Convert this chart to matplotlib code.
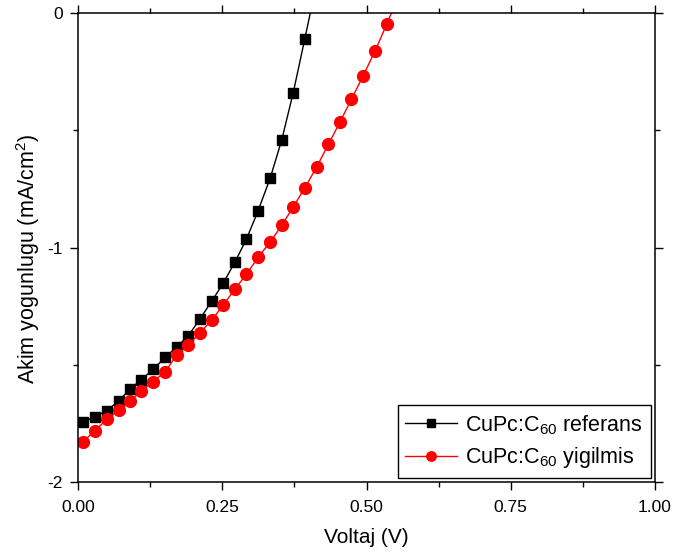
import matplotlib
matplotlib.use('Agg')
import matplotlib.pyplot as plt
from matplotlib.ticker import MultipleLocator, FormatStrFormatter

plt.rcParams['font.family'] = ['Liberation Sans', 'DejaVu Sans']
plt.rcParams['mathtext.fontset'] = 'custom'
plt.rcParams['mathtext.rm'] = 'Liberation Sans'
plt.rcParams['mathtext.it'] = 'Liberation Sans'
plt.rcParams['axes.unicode_minus'] = False

# voltaj (V) ve akim yogunlugu (mA/cm2); son noktalar ust kenarin disinda kalir
v_ref = [0.009, 0.029, 0.050, 0.071, 0.090, 0.110, 0.130, 0.151, 0.171, 0.191,
         0.211, 0.232, 0.252, 0.272, 0.292, 0.312, 0.333, 0.353, 0.373, 0.393, 0.413]
j_ref = [-1.743, -1.722, -1.696, -1.653, -1.604, -1.563, -1.520, -1.469, -1.424, -1.377,
         -1.306, -1.228, -1.151, -1.062, -0.964, -0.844, -0.705, -0.542, -0.340, -0.111, 0.12]

v_yig = [0.009, 0.029, 0.050, 0.071, 0.090, 0.110, 0.130, 0.151, 0.171, 0.191,
         0.211, 0.232, 0.252, 0.272, 0.292, 0.312, 0.333, 0.353, 0.373, 0.393,
         0.414, 0.434, 0.454, 0.474, 0.494, 0.515, 0.535, 0.555]
j_yig = [-1.828, -1.781, -1.733, -1.693, -1.655, -1.612, -1.572, -1.531, -1.458, -1.416,
         -1.365, -1.309, -1.245, -1.177, -1.114, -1.042, -0.977, -0.906, -0.827, -0.746,
         -0.655, -0.560, -0.465, -0.367, -0.269, -0.161, -0.048, 0.07]

labels = ['CuPc:C$_{60}$ referans', 'CuPc:C$_{60}$ yigilmis']

fig = plt.figure(figsize=(6.73, 5.56), dpi=100)
ax = fig.add_axes([78/673, 1 - 482/556, 577/673, 469/556])

ax.plot(v_ref, j_ref, color='black', lw=1.0, marker='s', ms=7, label=labels[0])
ax.plot(v_yig, j_yig, color='red', lw=1.0, marker='o', ms=8.5, label=labels[1])

# eksenler
ax.set_xlim(0, 1.0)
ax.set_ylim(-2, 0)
ax.xaxis.set_major_locator(MultipleLocator(0.25))
ax.xaxis.set_minor_locator(MultipleLocator(0.125))
ax.yaxis.set_major_locator(MultipleLocator(1))
ax.yaxis.set_minor_locator(MultipleLocator(0.5))
ax.xaxis.set_major_formatter(FormatStrFormatter('%.2f'))
ax.yaxis.set_major_formatter(FormatStrFormatter('%d'))

ax.tick_params(which='major', direction='out', length=6, width=1, labelsize=12.5)
ax.tick_params(axis='x', which='major', pad=7)
ax.tick_params(axis='y', which='major', pad=5)
ax.tick_params(which='minor', direction='out', length=3.5, width=1)
ax.tick_params(which='both', top=True, right=True, labeltop=False, labelright=False)
for s in ax.spines.values():
    s.set_linewidth(1.1)

ax.set_xlabel('Voltaj (V)', fontsize=15, labelpad=9)
ax.set_ylabel('Akim yogunlugu (mA/cm$^2$)', fontsize=15.5)
ax.yaxis.set_label_coords(-0.063, 0.475)

leg = ax.legend(loc='lower right', fontsize=15.5, frameon=True, fancybox=False,
                edgecolor='black', framealpha=1, handlelength=2.4,
                borderaxespad=0.2, borderpad=0.35, labelspacing=0.4,
                handletextpad=0.4, markerscale=0.8)
leg.get_frame().set_linewidth(1.0)

fig.savefig('out.png', dpi=100)
